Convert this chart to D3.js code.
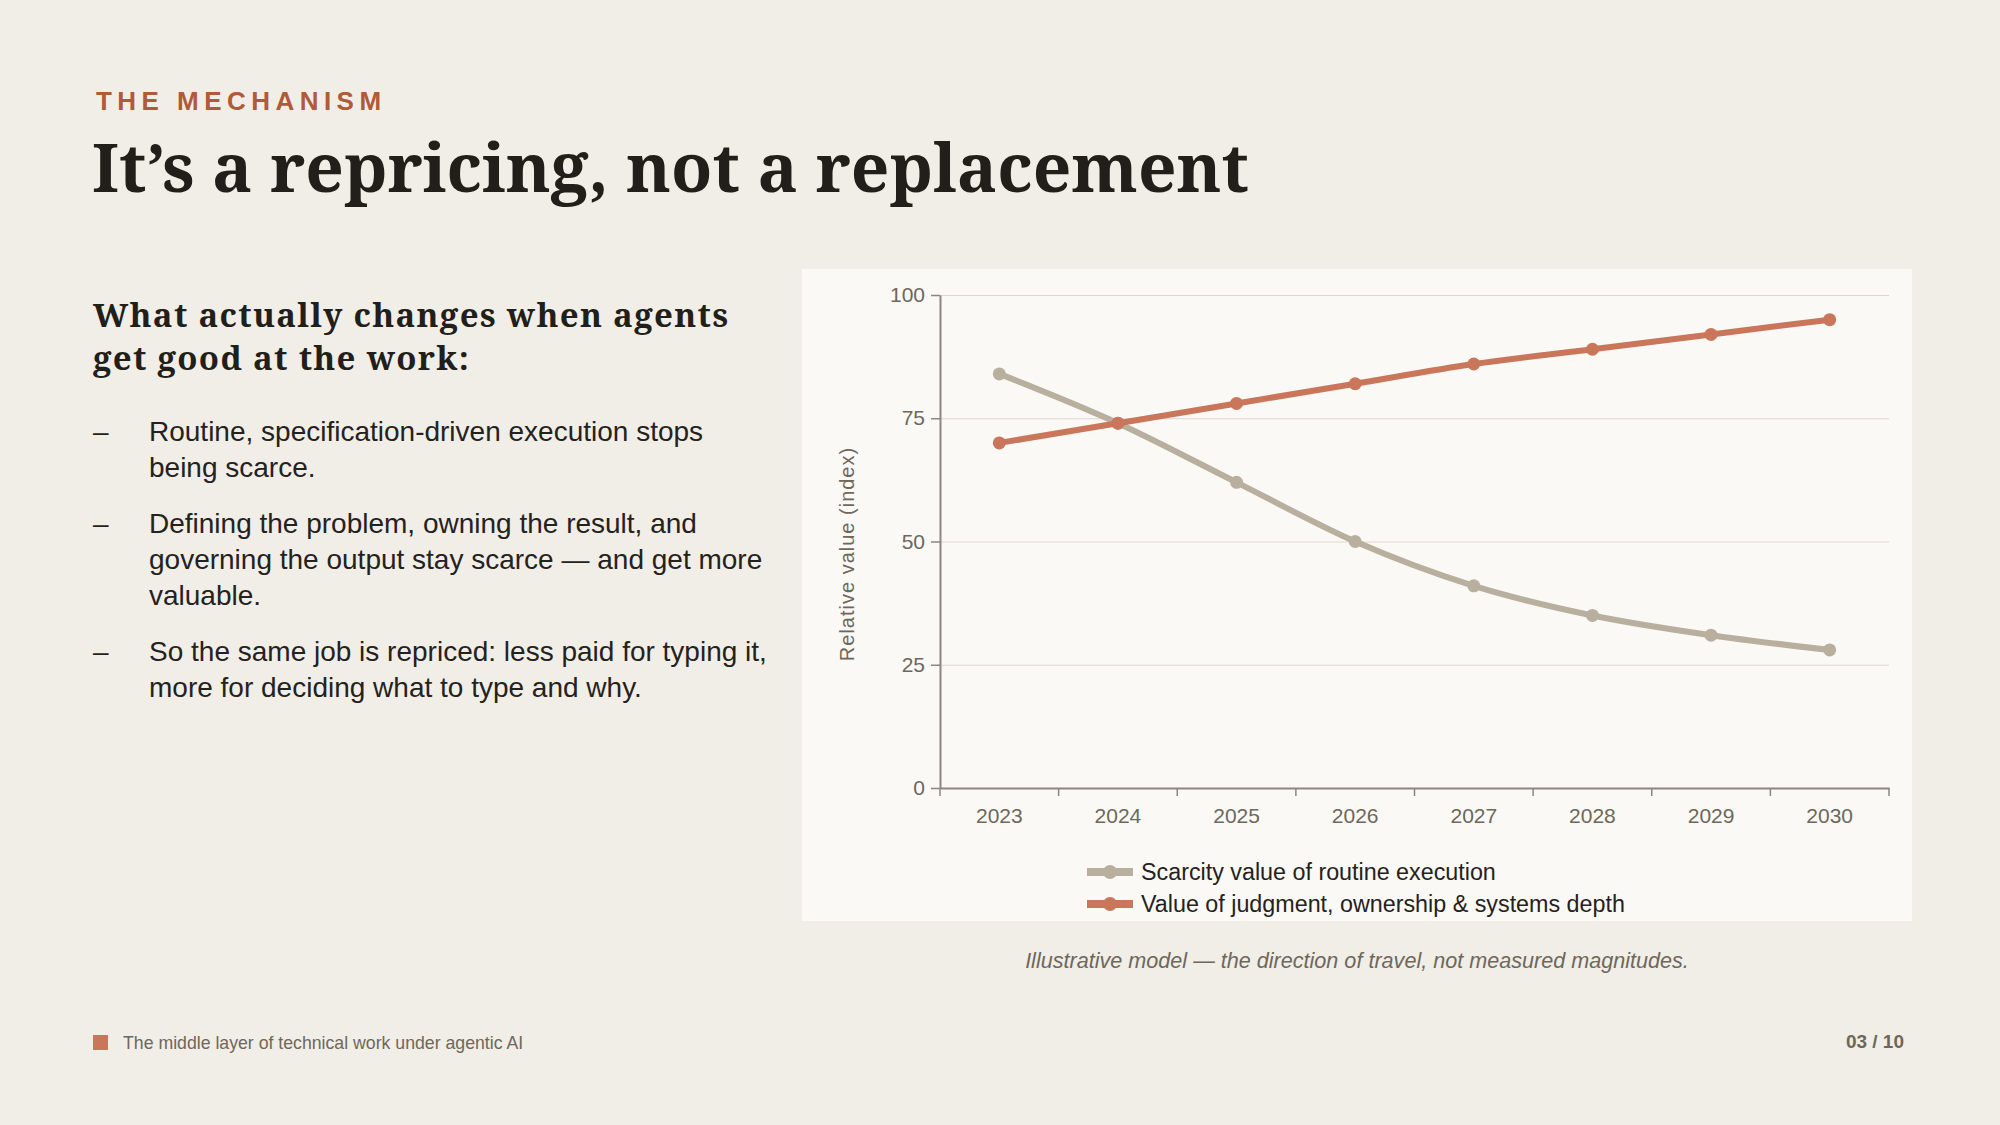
<!DOCTYPE html>
<html lang="en">
<head>
<meta charset="utf-8">
<title>The mechanism</title>
<script src="https://cdn.jsdelivr.net/npm/d3@7"></script>
<style>
  html, body {
    margin: 0;
    padding: 0;
    width: 2000px;
    height: 1125px;
    background: #f1eee8;
    overflow: hidden;
  }
  body {
    position: relative;
    font-family: "Liberation Sans", Arial, sans-serif;
    color: #25221d;
  }
  .eyebrow {
    position: absolute;
    left: 96px;
    top: 88px;
    font-size: 26px;
    line-height: 26px;
    font-weight: 700;
    letter-spacing: 0.21em;
    color: #b05a38;
  }
  h1 {
    position: absolute;
    left: 92px;
    top: 132px;
    margin: 0;
    font-family: "Noto Serif", "DejaVu Serif", serif;
    font-weight: 700;
    font-size: 67.5px;
    line-height: 68px;
    color: #221f1a;
    white-space: nowrap;
  }
  .left {
    position: absolute;
    left: 93px;
    top: 293px;
    width: 678px;
  }
  .left h2 {
    width: 672px;
    margin: 0 0 35px 0;
    font-family: "Noto Serif", "DejaVu Serif", serif;
    font-weight: 700;
    font-size: 33px;
    line-height: 43px;
    letter-spacing: 1.3px;
    color: #221f1a;
  }
  .left ul {
    list-style: none;
    margin: 0;
    padding: 0;
  }
  .left li {
    position: relative;
    padding-left: 56px;
    font-size: 28px;
    line-height: 36px;
    margin-bottom: 20px;
    color: #25221d;
  }
  .left li::before {
    content: "\2013";
    position: absolute;
    left: 0;
    top: 0;
  }
  #chart {
    position: absolute;
    left: 802px;
    top: 269px;
  }
  .caption {
    position: absolute;
    left: 802px;
    width: 1110px;
    top: 948px;
    text-align: center;
    font-style: italic;
    font-size: 21.6px;
    line-height: 26px;
    color: #6e675b;
  }
  .footer {
    position: absolute;
    left: 93px;
    top: 1033px;
    font-size: 17.7px;
    line-height: 20px;
    color: #6e675b;
  }
  .footer .sq {
    display: inline-block;
    width: 15px;
    height: 15px;
    background: #c9765b;
    vertical-align: -1px;
    margin-right: 15px;
  }
  .page {
    position: absolute;
    right: 96px;
    top: 1032px;
    font-size: 19px;
    line-height: 20px;
    font-weight: 700;
    color: #6e675b;
  }
</style>
</head>
<body>
  <div class="eyebrow">THE MECHANISM</div>
  <h1>It’s a repricing, not a replacement</h1>

  <div class="left">
    <h2>What actually changes when agents get good at the work:</h2>
    <ul>
      <li>Routine, specification-driven execution stops being scarce.</li>
      <li>Defining the problem, owning the result, and governing the output stay scarce — and get more valuable.</li>
      <li>So the same job is repriced: less paid for typing it, more for deciding what to type and why.</li>
    </ul>
  </div>

  <svg id="chart" width="1110" height="652"></svg>

  <div class="caption">Illustrative model — the direction of travel, not measured magnitudes.</div>
  <div class="footer"><span class="sq"></span>The middle layer of technical work under agentic AI</div>
  <div class="page">03 / 10</div>

<script>
// chart data
var years = ["2023", "2024", "2025", "2026", "2027", "2028", "2029", "2030"];
var scarcity = [84, 74, 62, 50, 41, 35, 31, 28];
var judgment = [70, 74, 78, 82, 86, 89, 92, 95];
var yTicks = [0, 25, 50, 75, 100];
var seriesNames = ["Scarcity value of routine execution", "Value of judgment, ownership & systems depth"];
var seriesColors = ["#b8af9f", "#c9765b"];

var svg = d3.select("#chart"),
    W = +svg.attr("width"),
    H = +svg.attr("height"),
    margin = {top: 26, right: 23, bottom: 133, left: 138},
    width = W - margin.left - margin.right,
    height = H - margin.top - margin.bottom;

// panel background
svg.append("rect")
   .attr("width", W)
   .attr("height", H)
   .attr("fill", "#faf9f6");

var x = d3.scaleBand().domain(years).range([0, width]).padding(0),
    y = d3.scaleLinear().domain([0, 100]).range([height, 0]);

var g = svg.append("g")
           .attr("transform", "translate(" + margin.left + "," + margin.top + ")");

// horizontal grid
var grid = g.append("g")
  .call(d3.axisLeft(y).tickValues(yTicks).tickSize(-width).tickFormat(""));
grid.select(".domain").remove();
grid.selectAll("line").attr("stroke", "#ddd8cf").attr("stroke-width", 1);

// y axis
var yAxis = g.append("g")
  .call(d3.axisLeft(y).tickValues(yTicks).tickSize(9).tickSizeOuter(0).tickPadding(6));
yAxis.select(".domain").attr("stroke", "#8a8782").attr("stroke-width", 2);
yAxis.selectAll(".tick line").attr("stroke", "#8a8782").attr("stroke-width", 1.5);
yAxis.selectAll("text")
  .attr("fill", "#6e675b")
  .style("font-family", "'Liberation Sans', Arial, sans-serif")
  .style("font-size", "21px");

// x axis, labels at band centres
var xAxis = g.append("g")
  .attr("transform", "translate(0," + height + ")")
  .call(d3.axisBottom(x).tickSize(0).tickSizeOuter(0).tickPadding(20));
xAxis.select(".domain").attr("stroke", "#8a8782").attr("stroke-width", 2);
xAxis.selectAll("text")
  .attr("fill", "#6e675b")
  .style("font-family", "'Liberation Sans', Arial, sans-serif")
  .style("font-size", "21px");

// x tick marks sit on the band edges
var edges = years.map(function(d) { return x(d); }).concat([x.range()[1]]);
xAxis.selectAll(".edge")
  .data(edges)
  .enter().append("line")
  .attr("class", "edge")
  .attr("x1", function(d) { return d; })
  .attr("x2", function(d) { return d; })
  .attr("y1", 0)
  .attr("y2", 8)
  .attr("stroke", "#8a8782")
  .attr("stroke-width", 1.5);

// y axis title
svg.append("text")
  .attr("transform", "translate(52,285) rotate(-90)")
  .attr("text-anchor", "middle")
  .attr("fill", "#6e675b")
  .style("font-family", "'Liberation Sans', Arial, sans-serif")
  .style("font-size", "20px")
  .style("letter-spacing", "1px")
  .text("Relative value (index)");

// lines + points
var line = d3.line()
  .x(function(d, i) { return x(years[i]) + x.bandwidth() / 2; })
  .y(function(d) { return y(d); })
  .curve(d3.curveMonotoneX);

[scarcity, judgment].forEach(function(values, s) {
  g.append("path")
    .datum(values)
    .attr("fill", "none")
    .attr("stroke", seriesColors[s])
    .attr("stroke-width", 6)
    .attr("stroke-linejoin", "round")
    .attr("d", line);

  g.selectAll(".pt" + s)
    .data(values)
    .enter().append("circle")
    .attr("class", "pt" + s)
    .attr("cx", function(d, i) { return x(years[i]) + x.bandwidth() / 2; })
    .attr("cy", function(d) { return y(d); })
    .attr("r", 6.5)
    .attr("fill", seriesColors[s]);
});

// legend
var legend = svg.append("g").attr("transform", "translate(285,603)");
seriesNames.forEach(function(name, i) {
  var row = legend.append("g").attr("transform", "translate(0," + (i * 32) + ")");
  row.append("line")
    .attr("x1", 0).attr("x2", 46)
    .attr("stroke", seriesColors[i])
    .attr("stroke-width", 8);
  row.append("circle")
    .attr("cx", 23)
    .attr("r", 7)
    .attr("fill", seriesColors[i]);
  row.append("text")
    .attr("x", 54)
    .attr("dy", "0.35em")
    .attr("fill", "#25221d")
    .style("font-family", "'Liberation Sans', Arial, sans-serif")
    .style("font-size", "23.3px")
    .text(name);
});
</script>
</body>
</html>
